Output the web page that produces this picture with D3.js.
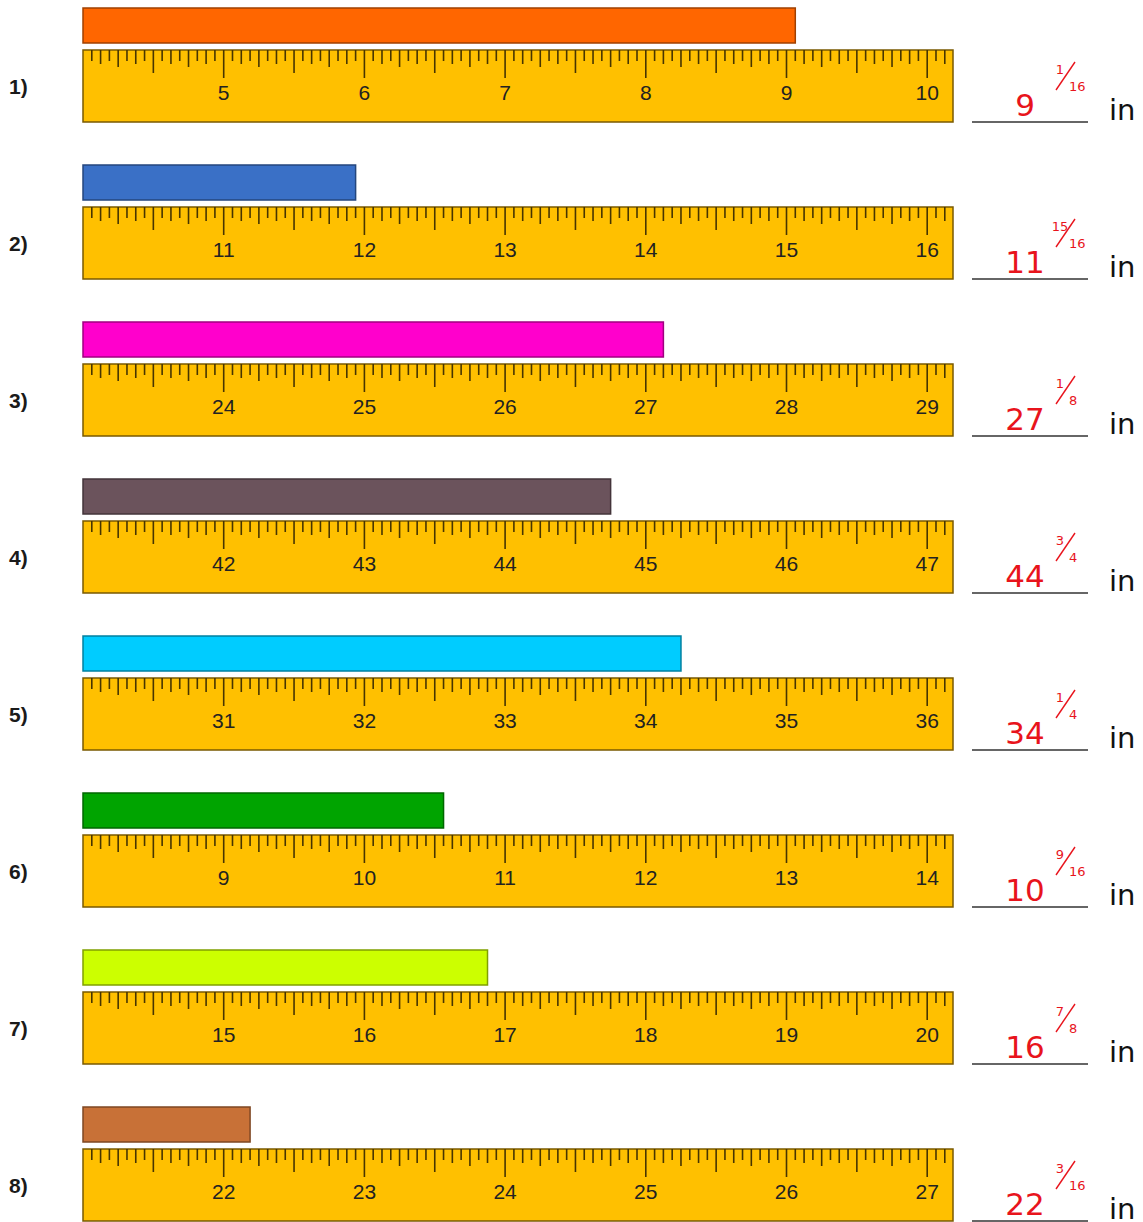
<!DOCTYPE html>
<html>
<head>
<meta charset="utf-8">
<script src="https://cdn.jsdelivr.net/npm/d3@7"></script>
<style>
  body { margin: 0; background: #fff; }
  svg { display: block; }
</style>
</head>
<body>
<svg id="chart"></svg>
<script>
// ruler rows: first inch shown on each ruler, and the measured bar length
var rowLabels = ["1)", "2)", "3)", "4)", "5)", "6)", "7)", "8)"];
var rulerStarts = [4, 10, 23, 41, 30, 8, 14, 21];
var wholes = [9, 11, 27, 44, 34, 10, 16, 22];
var numers = [1, 15, 1, 3, 1, 9, 7, 3];
var denoms = [16, 16, 8, 4, 4, 16, 8, 16];
var barColors = ["#ff6600", "#3a70c6", "#ff00cc", "#6b535c", "#00ccff", "#00a400", "#ccff00", "#c87137"];

var W = 1143, H = 1222;
var rowStep = 157;
var rulerLeft = 83, rulerRight = 953;
var inchPx = 140.7;

var svg = d3.select("#chart").attr("width", W).attr("height", H);

// tick length by subdivision
function tickLen(i) {
  if (i % 16 == 0) return 28;
  if (i % 8 == 0) return 23;
  if (i % 4 == 0) return 17;
  if (i % 2 == 0) return 14;
  return 11;
}

rowLabels.forEach(function(label, r) {
  var g = svg.append("g").attr("transform", "translate(0," + (r * rowStep) + ")");
  var start = rulerStarts[r];
  var span = (rulerRight - rulerLeft) / inchPx;
  var x = d3.scaleLinear().domain([start, start + span]).range([rulerLeft, rulerRight]);
  var value = wholes[r] + numers[r] / denoms[r];

  // row number
  g.append("text")
    .attr("x", 9).attr("y", 94)
    .style("font-family", "Liberation Sans, Arial, sans-serif")
    .style("font-size", "21px")
    .style("font-weight", "bold")
    .style("fill", "#1a1a1a")
    .text(label);

  // bar to measure
  var barCol = d3.color(barColors[r]);
  g.append("rect")
    .attr("x", x(start)).attr("y", 8)
    .attr("width", x(value) - x(start)).attr("height", 35)
    .style("fill", barColors[r])
    .style("stroke", barCol.darker(1.3))
    .style("stroke-width", 1.5);

  // ruler body
  g.append("rect")
    .attr("x", x(start)).attr("y", 50)
    .attr("width", x(start + span) - x(start)).attr("height", 72)
    .style("fill", "#ffc000")
    .style("stroke", "#7a5a00")
    .style("stroke-width", 1.5);

  // sixteenth ticks
  var sixteenths = d3.range(1, Math.floor(span * 16) + 1);
  g.selectAll("line.tick").data(sixteenths).enter().append("line")
    .attr("class", "tick")
    .attr("x1", function(i) { return x(start + i / 16); })
    .attr("x2", function(i) { return x(start + i / 16); })
    .attr("y1", 50)
    .attr("y2", function(i) { return 50 + tickLen(i); })
    .style("stroke", "#473500")
    .style("stroke-width", 1.6);

  // inch numbers
  var inches = d3.range(start + 1, Math.floor(start + span) + 1);
  g.selectAll("text.num").data(inches).enter().append("text")
    .attr("class", "num")
    .attr("x", function(d) { return x(d); })
    .attr("y", 100)
    .attr("text-anchor", "middle")
    .style("font-family", "Liberation Sans, Arial, sans-serif")
    .style("font-size", "21px")
    .style("fill", "#222")
    .text(function(d) { return d; });

  // answer line
  g.append("line")
    .attr("x1", 972).attr("x2", 1088)
    .attr("y1", 122).attr("y2", 122)
    .style("stroke", "#333").style("stroke-width", 1.5);

  g.append("text")
    .attr("x", 1025).attr("y", 116)
    .attr("text-anchor", "middle")
    .style("font-family", "DejaVu Sans, sans-serif")
    .style("font-size", "31px")
    .style("fill", "#e8141c")
    .text(wholes[r]);

  // fraction
  g.append("text")
    .attr("x", 1060).attr("y", 74)
    .attr("text-anchor", "middle")
    .style("font-family", "DejaVu Sans, sans-serif")
    .style("font-size", "13px")
    .style("fill", "#e8141c")
    .text(numers[r]);
  g.append("line")
    .attr("x1", 1056).attr("y1", 90)
    .attr("x2", 1075).attr("y2", 62)
    .style("stroke", "#e8141c").style("stroke-width", 1.4);
  g.append("text")
    .attr("x", 1069).attr("y", 91)
    .style("font-family", "DejaVu Sans, sans-serif")
    .style("font-size", "13px")
    .style("fill", "#e8141c")
    .text(denoms[r]);

  g.append("text")
    .attr("x", 1109).attr("y", 120)
    .style("font-family", "DejaVu Sans, sans-serif")
    .style("font-size", "29px")
    .style("fill", "#111")
    .text("in");
});
</script>
</body>
</html>
